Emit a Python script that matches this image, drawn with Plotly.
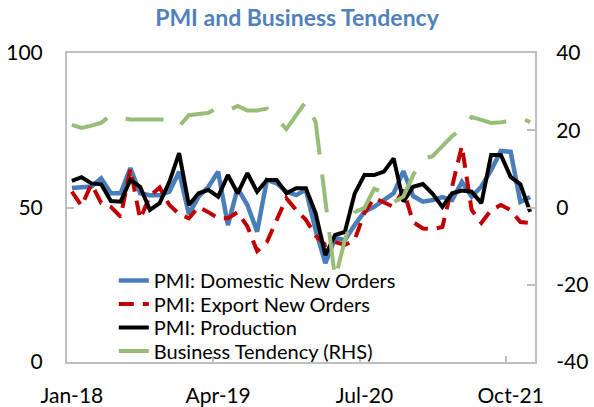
import plotly.graph_objects as go

months = [f"{m}-{y}" for y in ["18", "19", "20", "21"]
          for m in ["Jan", "Feb", "Mar", "Apr", "May", "Jun",
                    "Jul", "Aug", "Sep", "Oct", "Nov", "Dec"]]
tick_labels = ["Jan-18", "Apr-19", "Jul-20", "Oct-21"]
left_ticks = [0, 50, 100]
right_ticks = [-40, -20, 0, 20, 40]
right_tick_text = ["-40", "-20", "0", "20", "40"]

domestic = [56.3, 56.6, 56.8, 59.4, 54.6, 54.6, 62.8, 54.6, 54.0, 54.0,
            55.1, 61.6, 47.8, 53.5, 56.7, 61.6, 44.3, 56.2, 50.8, 42.2,
            58.9, 57.8, 55.1, 54.0, 55.7, 42.7, 32.0, 40.1, 39.5, 44.3,
            48.6, 50.2, 52.4, 54.6, 61.8, 53.7, 51.9, 52.4, 53.4, 52.4,
            58.3, 53.5, 56.8, 62.1, 68.3, 68.0, 51.8, 53.4]
export = [55.1, 50.5, 57.6, 51.5, 50.2, 47.0, 62.5, 46.3, 53.7, 56.5,
          50.8, 47.9, 46.5, 50.2, 48.5, 46.5, 46.5, 48.5, 43.9, 35.9,
          38.8, 46.0, 53.0, 49.2, 46.0, 40.9, 37.9, 38.8, 37.9, 39.5,
          48.2, 53.1, 51.8, 50.2, 55.7, 45.3, 43.2, 43.0, 43.7, 56.6,
          69.9, 49.2, 45.0, 49.2, 50.8, 49.2, 45.3, 45.0]
production = [58.6, 59.8, 57.8, 57.5, 52.1, 51.9, 58.9, 56.7, 49.2, 51.4,
              58.3, 67.6, 50.8, 54.6, 55.7, 53.5, 60.5, 54.6, 61.1, 55.1,
              58.9, 58.9, 54.6, 56.2, 56.2, 48.1, 34.6, 41.1, 42.1, 54.5,
              60.5, 60.5, 61.6, 65.9, 51.9, 56.7, 57.6, 54.4, 50.2, 54.6,
              55.5, 55.1, 51.4, 67.0, 67.0, 59.9, 57.5, 48.6]
business = [21.4, 20.6, 21.2, 21.9, 23.9, 23.2, 22.8, 22.7, 22.8, 22.8,
            22.7, 21.0, 23.9, 24.2, 24.5, 25.9, 25.1, 26.3, 25.1, 25.1,
            25.6, 23.0, 20.3, 23.9, 27.4, 22.1, 1.9, -18.5, -8.4, -1.2,
            -0.1, 4.8, 4.0, 1.4, 2.8, 8.4, 12.6, 13.3, 15.9, 18.5,
            20.3, 23.4, 22.7, 21.9, 22.1, 22.4, 23.3, 22.1]

x = list(range(len(months)))
tick_pos = [months.index(t) for t in tick_labels]

FONT = "Lato"
GREY = "#BFBFBF"

fig = go.Figure()
fig.add_trace(go.Scatter(x=x, y=domestic, name="PMI: Domestic New Orders",
                         mode="lines", legend="legend",
                         line=dict(color="#4A7EBB", width=4.5)))
fig.add_trace(go.Scatter(x=x, y=export, name="PMI: Export New Orders",
                         mode="lines", legend="legend2",
                         line=dict(color="#C00000", width=4, dash="15px,9px")))
fig.add_trace(go.Scatter(x=x, y=production, name="PMI: Production",
                         mode="lines", legend="legend3",
                         line=dict(color="#000000", width=4)))
fig.add_trace(go.Scatter(x=x, y=business, name="Business Tendency (RHS)",
                         mode="lines", yaxis="y2", legend="legend4",
                         line=dict(color="#97BD76", width=4, dash="38px,20px")))

leg_common = dict(x=0.1, xanchor="left", yanchor="middle",
                  bgcolor="rgba(0,0,0,0)", borderwidth=0,
                  font=dict(family=FONT, size=20, color="#000000"))

fig.update_layout(
    width=594, height=407, autosize=False,
    margin=dict(l=67, r=59, t=53, b=45, autoexpand=False),
    paper_bgcolor="white", plot_bgcolor="white",
    font=dict(family=FONT, size=21, color="#000000"),
    title=dict(text="<b>PMI and Business Tendency</b>", x=0.5, xanchor="center",
               y=0.955, yanchor="middle", automargin=False,
               font=dict(family=FONT, size=23, color="#4F81BD")),
    showlegend=True,
    legend=dict(y=0.264, **leg_common),
    legend2=dict(y=0.188, **leg_common),
    legend3=dict(y=0.112, **leg_common),
    legend4=dict(y=0.036, **leg_common),
    xaxis=dict(range=[-0.5, len(months) - 0.5], showgrid=False, zeroline=False,
               automargin=False,
               tickmode="array", tickvals=tick_pos, ticktext=tick_labels,
               ticks="", showline=True, linecolor=GREY, linewidth=2, mirror=True,
               ticklabelstandoff=14,
               minor=dict(tickmode="array", tickvals=[p - 0.5 for p in tick_pos[1:]],
                          ticks="inside", ticklen=6, tickcolor=GREY, tickwidth=1.5)),
    yaxis=dict(range=[0, 100], tickmode="array", tickvals=left_ticks,
               showgrid=False, zeroline=False, automargin=False,
               ticks="inside", ticklen=7, tickcolor=GREY, tickwidth=1.5,
               showline=True, linecolor=GREY, linewidth=2, ticklabelstandoff=18),
    yaxis2=dict(range=[-40, 40], tickmode="array", tickvals=right_ticks,
                ticktext=right_tick_text, overlaying="y",
                side="right", showgrid=False, zeroline=False, automargin=False,
                ticks="inside", ticklen=8, tickcolor=GREY, tickwidth=1.5,
                showline=True, linecolor=GREY, linewidth=2, ticklabelstandoff=15),
)

fig.write_html("out.html", config={"displayModeBar": False},
               post_script="document.body.style.margin='0';")
